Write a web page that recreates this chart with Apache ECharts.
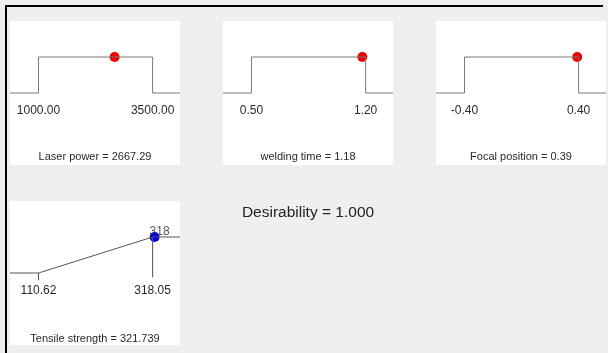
<!DOCTYPE html>
<html>
<head>
<meta charset="utf-8">
<script src="https://cdn.jsdelivr.net/npm/echarts@6/dist/echarts.min.js"></script>
<style>
  html, body { margin: 0; padding: 0; background: #efefef; }
  #chart { width: 608px; height: 353px; }
</style>
</head>
<body>
<div id="chart"></div>
<script>
// Factor settings of the optimal solution
const factorNames = ['Laser power', 'welding time', 'Focal position'];
const factorLow = [1000, 0.5, -0.4];
const factorHigh = [3500, 1.2, 0.4];
const factorValue = [2667.29, 1.18, 0.39];

// Response ramp (maximize goal)
const responseName = 'Tensile strength';
const responseLow = 110.62;
const responseHigh = 318.05;
const responseValue = 321.739;
const responseHighLabel = '318';

const desirability = 1.000;

const FONT = '"Liberation Sans", Arial, sans-serif';
const TEXT = '#2a2a2a';
const PAD_L = 0.25, PAD_R = 0.24;
const PANEL_W = 170, PANEL_H = 144;
// distance from the bottom of a panel up to its desirability-0 baseline
const BASE_OFFSET = 72;

// panel boxes (white plot areas)
const panels = [
  { left: 10, top: 21 },
  { left: 223, top: 21 },
  { left: 436, top: 21 },
  { left: 10, top: 201 }
];

function extent(lo, hi) {
  const r = hi - lo;
  return [lo - PAD_L * r, hi + PAD_R * r];
}

const grid = [], xAxis = [], yAxis = [], series = [];

function addAxes(i, lo, hi, digits, name, nameGap) {
  const [mn, mx] = extent(lo, hi);
  grid.push({
    left: panels[i].left, top: panels[i].top, width: PANEL_W, height: PANEL_H,
    show: true, backgroundColor: '#ffffff', borderWidth: 0
  });
  xAxis.push({
    gridIndex: i, type: 'value', min: mn, max: mx,
    offset: -BASE_OFFSET,
    axisLine: { show: false, onZero: false },
    axisTick: { show: false },
    splitLine: { show: false },
    axisLabel: {
      customValues: [lo, hi], margin: 12,
      formatter: v => v.toFixed(digits),
      color: TEXT, fontSize: 12, fontFamily: FONT
    },
    name: name, nameLocation: 'middle', nameGap: nameGap,
    nameTextStyle: { color: TEXT, fontSize: 11, fontFamily: FONT }
  });
  yAxis.push({
    gridIndex: i, type: 'value', min: -2, max: 2, show: false,
    splitLine: { show: false }
  });
  return [mn, mx];
}

// factor step functions
factorNames.forEach((nm, i) => {
  const lo = factorLow[i], hi = factorHigh[i], v = factorValue[i];
  const [mn, mx] = addAxes(i, lo, hi, 2, nm + ' = ' + v.toFixed(2), 58);
  series.push({
    type: 'line', xAxisIndex: i, yAxisIndex: i, symbol: 'none', silent: true,
    lineStyle: { color: '#7a7a7a', width: 1 },
    data: [[mn, 0], [lo, 0], [lo, 1], [hi, 1], [hi, 0], [mx, 0]]
  });
  series.push({
    type: 'scatter', xAxisIndex: i, yAxisIndex: i, symbolSize: 10,
    itemStyle: { color: '#ee0000', opacity: 1 },
    data: [[v, 1]]
  });
});

// response ramp
{
  const i = 3;
  const [mn, mx] = addAxes(i, responseLow, responseHigh, 2,
    responseName + ' = ' + responseValue.toFixed(3), 60);
  series.push({
    type: 'line', xAxisIndex: i, yAxisIndex: i, symbol: 'none', silent: true,
    lineStyle: { color: '#555555', width: 1 },
    data: [[mn, 0], [responseLow, 0], [responseHigh, 1], [mx, 1]]
  });
  series.push({
    type: 'line', xAxisIndex: i, yAxisIndex: i, symbol: 'none', silent: true,
    lineStyle: { color: '#555555', width: 1 },
    data: [[responseLow, 0], [responseLow, -0.2]]
  });
  series.push({
    type: 'line', xAxisIndex: i, yAxisIndex: i, symbol: 'none', silent: true,
    lineStyle: { color: '#555555', width: 1 },
    data: [[responseHigh, 1], [responseHigh, -0.12]]
  });
  series.push({
    type: 'scatter', xAxisIndex: i, yAxisIndex: i, symbolSize: 0, silent: true,
    label: {
      show: true, position: 'top', distance: -1, offset: [7, 0],
      formatter: responseHighLabel,
      color: TEXT, fontSize: 12, fontFamily: FONT
    },
    data: [[responseHigh, 1]]
  });
  series.push({
    type: 'scatter', xAxisIndex: i, yAxisIndex: i, symbolSize: 10,
    itemStyle: { color: '#0000e6', opacity: 1 },
    data: [[responseValue, 1]]
  });
}

const chart = echarts.init(document.getElementById('chart'), null, { renderer: 'canvas' });
chart.setOption({
  animation: false,
  backgroundColor: '#efefef',
  title: [{
    text: 'Desirability = ' + desirability.toFixed(3),
    left: 308, top: 205, textAlign: 'center', padding: 0,
    textStyle: { color: '#222', fontSize: 15.5, fontWeight: 'normal', fontFamily: FONT }
  }],
  grid, xAxis, yAxis, series,
  graphic: [
    { type: 'rect', shape: { x: 5, y: 5, width: 598, height: 2 }, style: { fill: '#000' }, silent: true },
    { type: 'rect', shape: { x: 5, y: 5, width: 2, height: 348 }, style: { fill: '#000' }, silent: true }
  ]
});
</script>
</body>
</html>
